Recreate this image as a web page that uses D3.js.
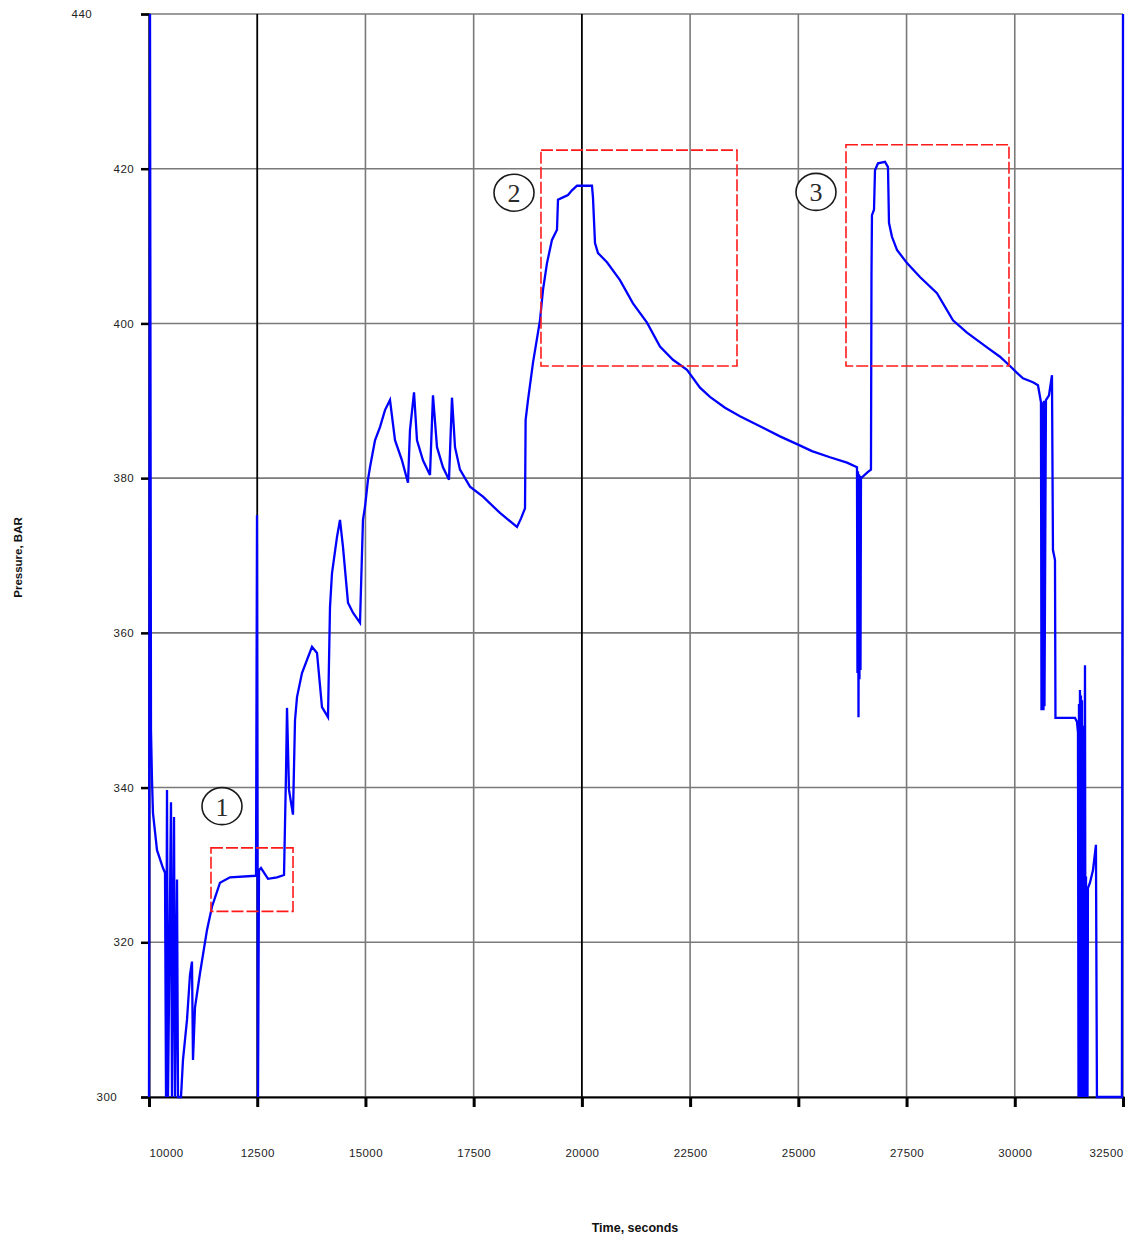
<!DOCTYPE html>
<html>
<head>
<meta charset="utf-8">
<script src="https://cdn.jsdelivr.net/npm/d3@7/dist/d3.min.js"></script>
<style>
  html, body { margin: 0; padding: 0; background: #fff; }
  svg { display: block; }
  .tick text { font-family: "Liberation Sans", Arial, sans-serif; }
</style>
</head>
<body>
<svg id="chart" width="1130" height="1243"></svg>
<script>
// Well-head pressure log, seconds vs bar
const time = [
  10000, 10023, 10046, 10069, 10092, 10185, 10323, 10370, 10393, 10416,
  10439, 10508, 10531, 10578, 10601, 10647, 10670, 10739, 10785, 10878,
  10947, 10993, 11016, 11063, 11178, 11340, 11455, 11640, 11871, 12472,
  12495, 12518, 12541, 12587, 12749, 12957, 13119, 13165, 13188, 13234,
  13326, 13373, 13419, 13534, 13765, 13881, 13996, 14135, 14181, 14227,
  14343, 14412, 14481, 14597, 14712, 14874, 14943, 14990, 15059, 15105,
  15221, 15336, 15452, 15567, 15683, 15844, 15983, 16029, 16122, 16191,
  16329, 16491, 16560, 16653, 16791, 16930, 16999, 17069, 17184, 17415,
  17715, 18108, 18501, 18594, 18686, 18700, 18755, 18870, 19032, 19101,
  19194, 19309, 19425, 19448, 19563, 19679, 19771, 19887, 20233, 20256,
  20303, 20372, 20580, 20880, 21180, 21504, 21804, 22104, 22428, 22728,
  22959, 23306, 23652, 24114, 24576, 24969, 25315, 25731, 26124, 26355,
  26366, 26378, 26390, 26401, 26412, 26424, 26436, 26447, 26470, 26609,
  26678, 26690, 26701, 26748, 26771, 26840, 27002, 27071, 27094, 27163,
  27279, 27510, 27810, 28203, 28572, 28896, 29358, 29658, 29889, 30051,
  30189, 30420, 30536, 30605, 30617, 30628, 30640, 30651, 30663, 30674,
  30686, 30720, 30790, 30859, 30882, 30929, 30940, 31391, 31437, 31460,
  31472, 31483, 31494, 31506, 31517, 31529, 31540, 31552, 31563, 31575,
  31598, 31622, 31634, 31645, 31657, 31668, 31680, 31690, 31737, 31806,
  31875, 31898, 32475, 32500
];
const pressure = [
  300, 440, 347.4, 341.0, 336.7, 331.9, 329.6, 329.0, 300, 339.7,
  300, 338.1, 300, 336.2, 300, 328.1, 300, 300, 304.8, 310.0,
  315.8, 317.5, 304.8, 311.6, 316.0, 321.6, 324.6, 327.7, 328.4, 328.6,
  375.2, 300, 329.3, 329.6, 328.2, 328.4, 328.7, 341.9, 350.3, 339.7,
  336.5, 348.7, 351.7, 354.8, 358.2, 357.4, 350.4, 349.1, 363.3, 367.7,
  372.4, 374.6, 371.1, 363.9, 362.6, 361.3, 374.6, 376.3, 379.8, 381.4,
  384.9, 386.6, 388.8, 390.1, 384.9, 382.3, 379.4, 386.2, 391.1, 384.9,
  382.3, 380.4, 390.7, 384.0, 381.4, 379.8, 390.4, 384.0, 381.1, 378.9,
  377.6, 375.5, 373.7, 374.8, 376.1, 387.5, 390.1, 394.9, 400.4, 404.3,
  407.8, 410.8, 412.1, 416.0, 416.3, 416.6, 417.2, 417.8, 417.8, 416.3,
  410.4, 409.1, 407.9, 405.6, 402.6, 400.1, 397.0, 395.3, 394.0, 391.7,
  390.5, 389.1, 388.0, 386.7, 385.4, 384.4, 383.5, 382.7, 382.0, 381.4,
  354.8, 380.9, 349.1, 380.5, 354.0, 380.3, 355.2, 380.1, 380.1, 380.8,
  381.1, 406.5, 414.0, 414.7, 419.8, 420.7, 420.9, 420.2, 413.0, 411.2,
  409.5, 407.8, 406.0, 403.9, 400.4, 398.8, 396.9, 395.7, 394.5, 393.6,
  392.9, 392.4, 392.0, 389.8, 350.0, 389.6, 351.2, 389.8, 350.0, 390.0,
  350.5, 390.1, 390.7, 393.3, 370.7, 369.4, 349.0, 349.0, 348.5, 347.1,
  300, 350.8, 300, 352.6, 300, 351.9, 300, 351.3, 300, 348.0,
  300, 355.8, 300, 328.5, 300, 326.8, 300, 327.0, 327.7, 329.3,
  332.6, 300, 300, 440
];

// Axis ticks
const xTicks = [10000, 12500, 15000, 17500, 20000, 22500, 25000, 27500, 30000, 32500];
const yTicks = [300, 320, 340, 360, 380, 400, 420, 440];
// Reference times drawn as dark gridlines
const markTimes = [12500, 20000];

// Highlighted windows (time range and pressure range)
const boxLabels = ["1", "2", "3"];
const boxT0 = [11432, 19055, 26101];
const boxT1 = [13327, 23583, 29866];
const boxP0 = [324.0, 394.5, 394.5];
const boxP1 = [332.2, 422.4, 423.1];
// Circled number badges
const badgeT = [11686, 18432, 25408];
const badgeP = [337.6, 416.9, 417.0];

const svg = d3.select("#chart");
const margin = { left: 149, top: 14, right: 7, bottom: 146 };
const W = 1130 - margin.left - margin.right;
const H = 1243 - margin.top - margin.bottom;

const x = d3.scaleLinear().domain([10000, 32500]).range([0, W]);
const y = d3.scaleLinear().domain([300, 440]).range([H, 0]);

const g = svg.append("g").attr("transform", `translate(${margin.left},${margin.top})`);

// Horizontal gridlines
g.append("g").selectAll("line").data(yTicks).join("line")
  .attr("x1", 0).attr("x2", W)
  .attr("y1", d => y(d)).attr("y2", d => y(d))
  .attr("stroke", "#7a7a7a").attr("stroke-width", 1.6);

// Vertical gridlines
g.append("g").selectAll("line").data(xTicks).join("line")
  .attr("x1", d => x(d)).attr("x2", d => x(d))
  .attr("y1", 0).attr("y2", H)
  .attr("stroke", d => markTimes.includes(d) ? "#000" : "#7a7a7a")
  .attr("stroke-width", d => markTimes.includes(d) ? 1.8 : 1.6);

// X axis
const xAxis = g.append("g").attr("transform", `translate(0,${H})`)
  .call(d3.axisBottom(x).tickValues(xTicks).tickFormat(d3.format("d")).tickSize(10).tickPadding(42));
xAxis.select(".domain").attr("stroke", "#000").attr("stroke-width", 2.2);
xAxis.selectAll(".tick line").attr("stroke", "#000").attr("stroke-width", 3);
xAxis.selectAll(".tick text")
  .attr("font-size", 11.5).attr("fill", "#222").attr("letter-spacing", "0.4px")
  .attr("text-anchor", (d, i) => i === 0 ? "start" : (i === xTicks.length - 1 ? "end" : "middle"));

// Y axis
const yAxis = g.append("g")
  .call(d3.axisLeft(y).tickValues(yTicks).tickFormat(d3.format("d")).tickSize(8).tickPadding(7));
yAxis.select(".domain").attr("stroke", "#000").attr("stroke-width", 2);
yAxis.selectAll(".tick line").attr("stroke", "#000").attr("stroke-width", 2.5);
yAxis.selectAll(".tick text")
  .attr("font-size", 11.5).attr("fill", "#222").attr("letter-spacing", "0.4px")
  .attr("dx", d => d === 440 ? -42 : (d === 300 ? -17 : 0));

// Pressure trace
const line = d3.line().x((d, i) => x(time[i])).y((d, i) => y(pressure[i]));
g.append("path")
  .datum(pressure)
  .attr("d", line)
  .attr("fill", "none")
  .attr("stroke", "#0000ff")
  .attr("stroke-width", 2.3)
  .attr("stroke-linejoin", "miter");

// Dashed highlight boxes
g.append("g").selectAll("rect").data(boxLabels).join("rect")
  .attr("x", (d, i) => x(boxT0[i]))
  .attr("y", (d, i) => y(boxP1[i]))
  .attr("width", (d, i) => x(boxT1[i]) - x(boxT0[i]))
  .attr("height", (d, i) => y(boxP0[i]) - y(boxP1[i]))
  .attr("fill", "none")
  .attr("stroke", "#ff1a1a")
  .attr("stroke-width", 1.6)
  .attr("stroke-dasharray", "12,3");

// Circled numbers
const badges = g.append("g").selectAll("g").data(boxLabels).join("g")
  .attr("transform", (d, i) => `translate(${x(badgeT[i])},${y(badgeP[i])})`);
badges.append("ellipse")
  .attr("rx", 20).attr("ry", 18.5)
  .attr("fill", "#fff").attr("stroke", "#1a1a1a").attr("stroke-width", 1.6);
badges.append("text")
  .attr("text-anchor", "middle")
  .attr("dy", "0.36em")
  .attr("font-family", "Liberation Serif, 'Times New Roman', serif")
  .attr("font-size", 26)
  .attr("fill", "#2a2a2a")
  .text(d => d);

// Axis titles
svg.append("text")
  .attr("x", margin.left + W / 2 - 1).attr("y", 1232)
  .attr("text-anchor", "middle")
  .attr("font-family", "Liberation Sans, Arial, sans-serif")
  .attr("font-size", 12.5).attr("font-weight", "bold").attr("fill", "#111")
  .text("Time, seconds");

svg.append("text")
  .attr("transform", `translate(22,${margin.top + H / 2 + 2}) rotate(-90)`)
  .attr("text-anchor", "middle")
  .attr("font-family", "Liberation Sans, Arial, sans-serif")
  .attr("font-size", 11.5).attr("font-weight", "bold").attr("fill", "#111")
  .text("Pressure, BAR");
</script>
</body>
</html>
